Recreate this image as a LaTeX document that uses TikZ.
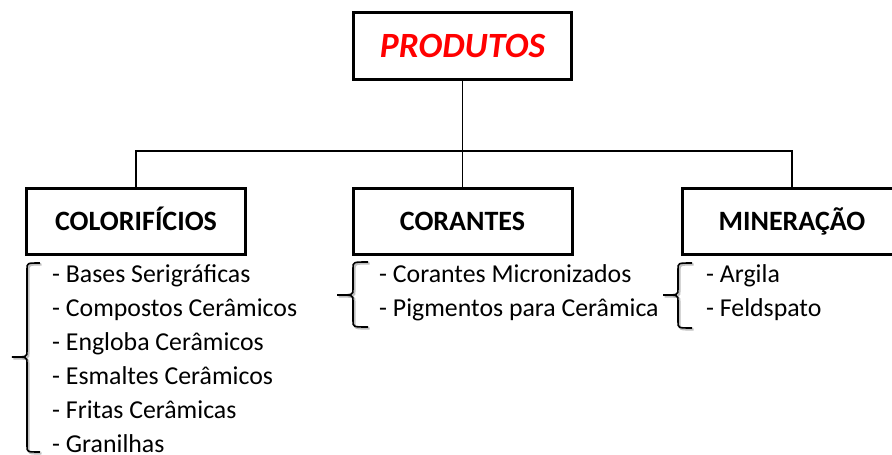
\documentclass[tikz,border=0pt]{standalone}
\usepackage{fontspec}
\setmainfont{Carlito}
\usetikzlibrary{positioning}
\tikzset{
  topbox/.style={draw, line width=3pt, minimum width=218pt, minimum height=67pt,
    text height=22.9pt, text depth=0pt,
    text=red, font=\fontsize{35.5}{38}\selectfont\bfseries\itshape},
  groupbox/.style={draw, line width=3pt, minimum width=219pt, minimum height=66pt,
    text height=18pt, text depth=0pt,
    font=\fontsize{28}{32}\selectfont\bfseries},
  itemlist/.style={anchor=north west, align=left, inner sep=0pt,
    font=\fontsize{25.8}{34}\selectfont},
  link/.style={line width=1.3pt},
  bracket/.style={line width=1.6pt},
  bracketshadow/.style={line width=2.2pt, draw=black!25}
}
% xm = tip, xv = spine, xt = end of ticks
\newcommand{\listbrace}[6]{%
  \draw[bracketshadow, shift={(1.5,1.5)}] (#3,#4) .. controls (#2,#4) .. (#2,#4+6) -- (#2,#5-6)
    .. controls (#2,#5) .. (#1,#5) .. controls (#2,#5) .. (#2,#5+6) -- (#2,#6-6)
    .. controls (#2,#6) .. (#3,#6);
  \draw[bracket] (#3,#4) .. controls (#2,#4) .. (#2,#4+6) -- (#2,#5-6)
    .. controls (#2,#5) .. (#1,#5) .. controls (#2,#5) .. (#2,#5+6) -- (#2,#6-6)
    .. controls (#2,#6) .. (#3,#6);
}
\begin{document}
\begin{tikzpicture}[x=1pt, y=-1pt]
  \useasboundingbox (0,0) rectangle (892,455);
  \node[topbox] (prod) at (462.5,46) {PRODUTOS};
  \node[groupbox] (color) at (136,221) {COLORIFÍCIOS};
  \node[groupbox] (coran) at (462.5,221) {CORANTES};
  \node[groupbox] (miner) at (792,221) {MINERAÇÃO};
  \coordinate (bus) at (462.5,151);
  % connectors
  \draw[link] (prod.south) -- (bus);
  \draw[link] (color.north) |- (bus) -| (miner.north);
  \draw[link] (bus) -- (coran.north);
  % lists
  \node[itemlist] (colorlist) at (52,264) {- Bases Serigráficas\\- Compostos Cerâmicos\\- Engloba Cerâmicos\\- Esmaltes Cerâmicos\\- Fritas Cerâmicas\\- Granilhas};
  \node[itemlist] (coranlist) at (379,264.5) {- Corantes Micronizados\\- Pigmentos para Cerâmica};
  \node[itemlist] (minerlist) at (706,264.5) {- Argila\\- Feldspato};
  \listbrace{12}{27}{40}{263}{357}{452}
  \listbrace{337}{353}{368}{262}{295}{327}
  \listbrace{663}{678}{692}{263}{295}{328}
\end{tikzpicture}
\end{document}
